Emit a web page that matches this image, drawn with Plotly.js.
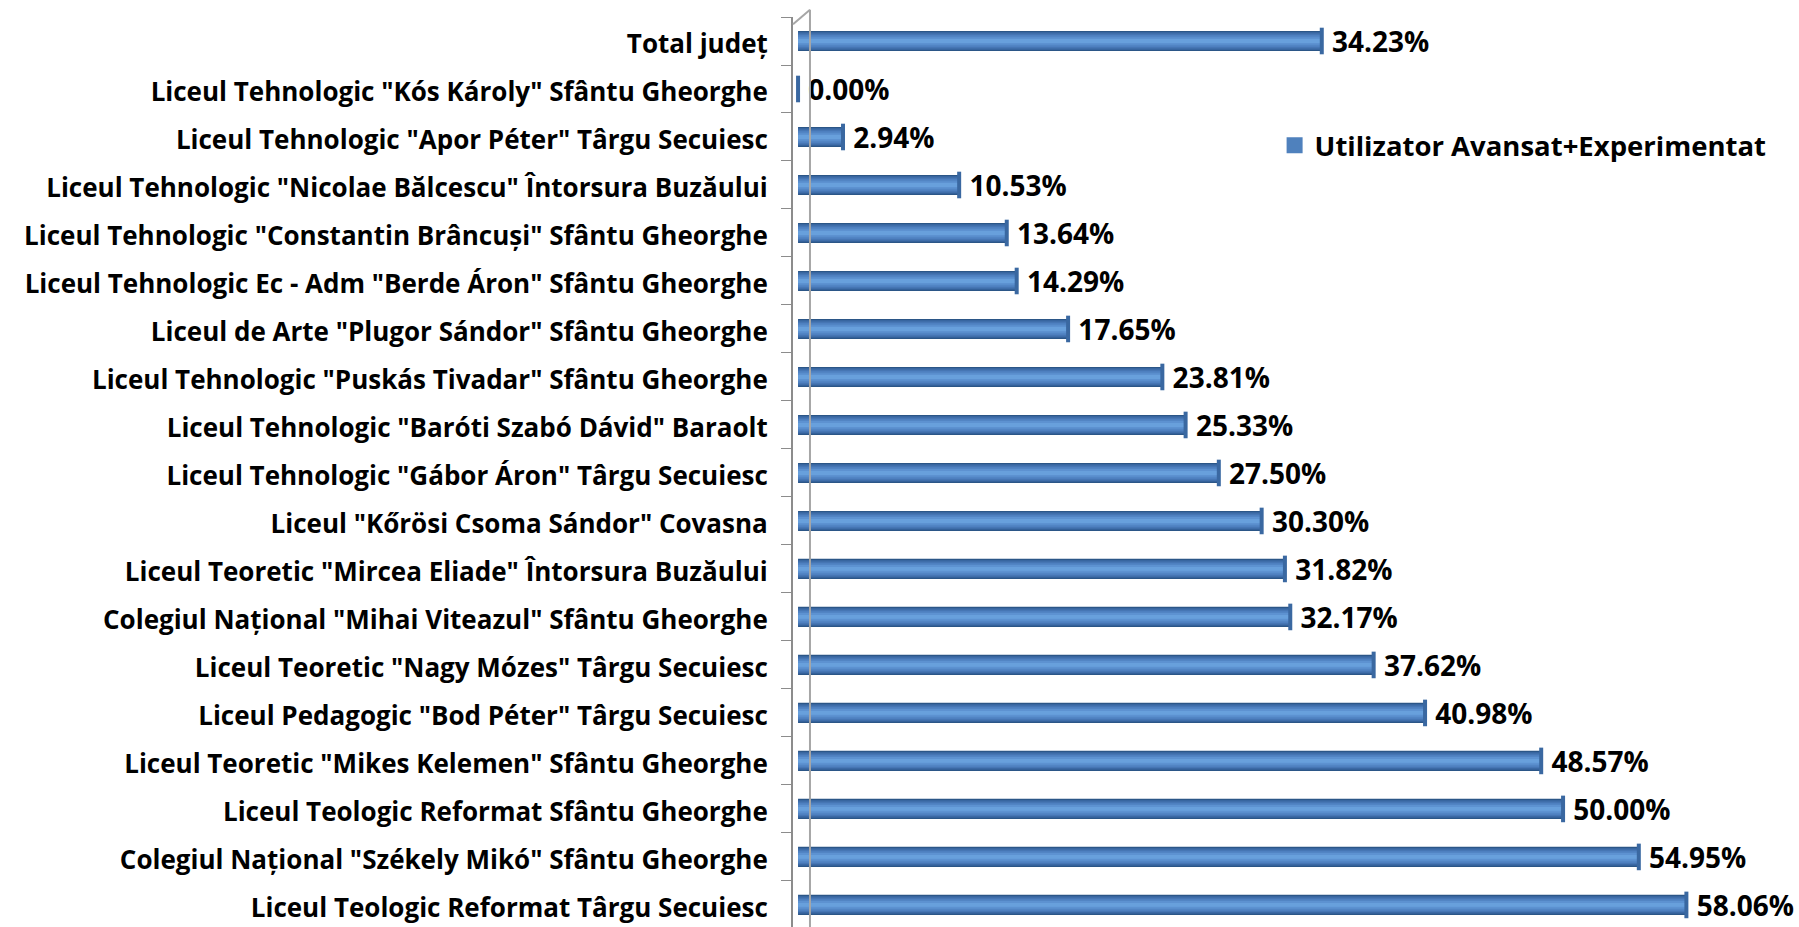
<!DOCTYPE html>
<html>
<head>
<meta charset="utf-8">
<script src="https://cdn.plot.ly/plotly-3.0.1.min.js"></script>
<style>html,body{margin:0;padding:0;background:#fff;}#chart{width:1799px;height:927px;}</style>
</head>
<body>
<div id="chart"></div>
<script>
const categories = [
  'Total județ',
  'Liceul Tehnologic "Kós Károly" Sfântu Gheorghe',
  'Liceul Tehnologic "Apor Péter" Târgu Secuiesc',
  'Liceul Tehnologic "Nicolae Bălcescu" Întorsura Buzăului',
  'Liceul Tehnologic "Constantin Brâncuși" Sfântu Gheorghe',
  'Liceul Tehnologic Ec - Adm "Berde Áron" Sfântu Gheorghe',
  'Liceul de Arte "Plugor Sándor" Sfântu Gheorghe',
  'Liceul Tehnologic "Puskás Tivadar" Sfântu Gheorghe',
  'Liceul Tehnologic "Baróti Szabó Dávid" Baraolt',
  'Liceul Tehnologic "Gábor Áron" Târgu Secuiesc',
  'Liceul "Kőrösi Csoma Sándor" Covasna',
  'Liceul Teoretic "Mircea Eliade" Întorsura Buzăului',
  'Colegiul Național "Mihai Viteazul" Sfântu Gheorghe',
  'Liceul Teoretic "Nagy Mózes" Târgu Secuiesc',
  'Liceul Pedagogic "Bod Péter" Târgu Secuiesc',
  'Liceul Teoretic "Mikes Kelemen" Sfântu Gheorghe',
  'Liceul Teologic Reformat Sfântu Gheorghe',
  'Colegiul Național "Székely Mikó" Sfântu Gheorghe',
  'Liceul Teologic Reformat Târgu Secuiesc'
];
const values = [34.23, 0.00, 2.94, 10.53, 13.64, 14.29, 17.65, 23.81, 25.33, 27.50, 30.30, 31.82, 32.17, 37.62, 40.98, 48.57, 50.00, 54.95, 58.06];
const seriesName = 'Utilizator Avansat+Experimentat';
const labels = values.map(v => '\u00a0' + v.toFixed(2) + '%');

const FONT = '"Open Sans", sans-serif';

// cylinder-like shading: stacked overlay layers from dark edge to light core
const shades = [
  {w: 0.42, c: '#2b5687'},
  {w: 0.37, c: '#3866a0'},
  {w: 0.31, c: '#4676b4'},
  {w: 0.24, c: '#5285c4'},
  {w: 0.16, c: '#5d92d1'},
  {w: 0.08, c: '#68a0dc'}
];

const traces = shades.map((s, i) => {
  const t = {
    type: 'bar', orientation: 'h', y: categories, x: values,
    width: s.w, marker: {color: s.c, line: {width: 0}},
    showlegend: false, hoverinfo: i === 0 ? 'x+y' : 'skip'
  };
  if (i === 0) {
    t.text = labels;
    t.textposition = 'outside';
    t.constraintext = 'none';
    t.cliponaxis = false;
    t.textfont = {family: FONT, size: 28, color: '#000', weight: 'bold'};
  }
  return t;
});
// cylinder end caps
traces.push({
  type: 'scatter', mode: 'markers', y: categories, x: values,
  marker: {symbol: 'line-ns-open', size: 19, color: '#3a68a1', line: {color: '#3a68a1', width: 4}},
  showlegend: false, hoverinfo: 'skip', cliponaxis: false
});
// legend entry
traces.push({
  type: 'scatter', mode: 'markers', y: [null], x: [null],
  marker: {symbol: 'square', size: 16, color: '#4f81bd'},
  name: seriesName, showlegend: true, hoverinfo: 'skip'
});

const layout = {
  width: 1799, height: 927,
  margin: {l: 793, r: 13, t: 17, b: 0, pad: 0},
  paper_bgcolor: '#fff', plot_bgcolor: '#fff',
  barmode: 'overlay',
  font: {family: FONT, color: '#000'},
  xaxis: {range: [-0.33, 64.57], visible: false, showgrid: false, zeroline: false, fixedrange: true},
  yaxis: {
    type: 'category', categoryorder: 'array', categoryarray: categories,
    range: [18.46, -0.5],
    showline: true, linecolor: '#8c8c8c', linewidth: 2,
    ticks: 'outside', tickson: 'boundaries', ticklen: 10, tickcolor: '#8c8c8c', tickwidth: 1,
    ticklabelstandoff: 18, ticklabelshift: -3,
    tickfont: {family: FONT, size: 26, color: '#000', weight: 'bold'},
    showgrid: false, zeroline: false, fixedrange: true
  },
  legend: {
    x: 0.485, y: 0.859, xanchor: 'left', yanchor: 'middle',
    font: {family: FONT, size: 27.5, color: '#000', weight: 'bold'},
    bgcolor: 'rgba(0,0,0,0)', itemwidth: 30
  },
  shapes: [
    {type: 'line', xref: 'paper', yref: 'paper', x0: 0.0171, x1: 0.0171, y0: 1.008, y1: 0, line: {color: '#a6a6a6', width: 2}},
    {type: 'line', xref: 'paper', yref: 'paper', x0: 0, x1: 0.0171, y0: 0.992, y1: 1.008, line: {color: '#a6a6a6', width: 2}}
  ]
};

Plotly.newPlot('chart', traces, layout, {displayModeBar: false, staticPlot: true});
</script>
</body>
</html>
